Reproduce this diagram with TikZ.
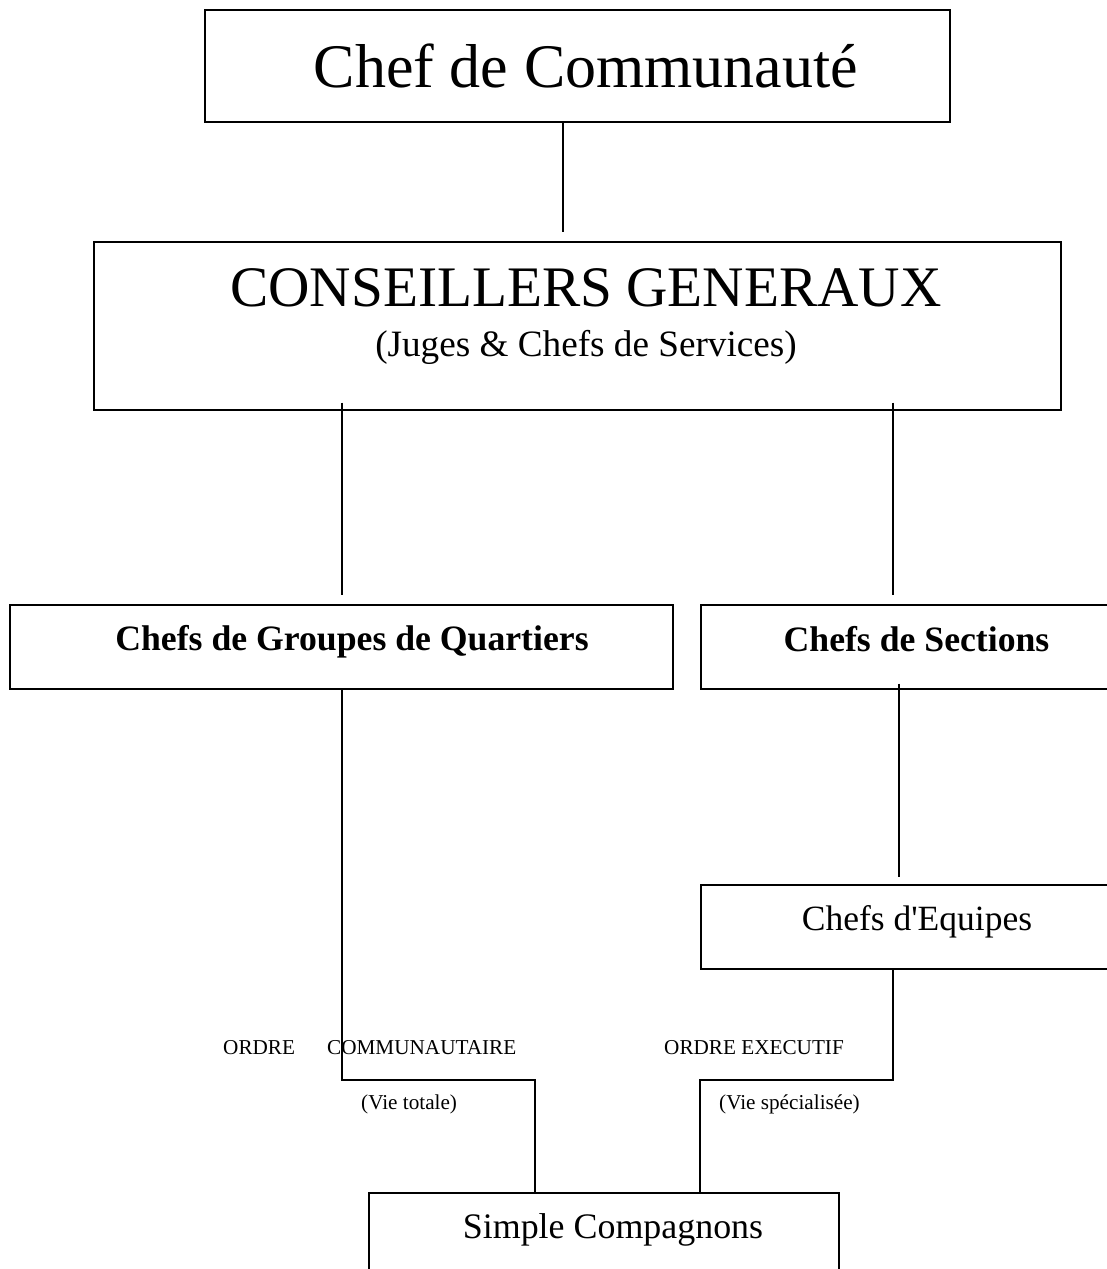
\documentclass[tikz,border=0pt]{standalone}
\usepackage{fontspec}
\setmainfont{Liberation Serif}
\usetikzlibrary{calc}
\newcommand\myfs[1]{\fontsize{#1}{#1}\selectfont}
\begin{document}
\begin{tikzpicture}[x=1pt,y=-1pt,
  box/.style={draw, line width=1.6pt, inner sep=0pt, anchor=north west},
  conn/.style={line width=1.6pt, line join=miter},
  thinconn/.style={line width=1.1pt},
  txt/.style={inner sep=0pt, anchor=base},
  lbl/.style={inner sep=0pt, anchor=base west, font=\myfs{21.2}}]
\useasboundingbox (0,0) rectangle (1107,1269);
\fill[white] (0,0) rectangle (1107,1269);

% boxes
\node[box, minimum width=745pt, minimum height=112pt] (chef) at (204,9) {};
\node[box, minimum width=967pt, minimum height=168pt] (conseil) at (93,241) {};
\node[box, minimum width=663pt, minimum height=84pt] (groupes) at (9,604) {};
\node[box, minimum width=450pt, minimum height=84pt] (sections) at (700,604) {};
\node[box, minimum width=450pt, minimum height=84pt] (equipes) at (700,884) {};
\node[box, minimum width=470pt, minimum height=120pt] (simple) at (368,1192) {};

% texts
\node[txt, font=\myfs{62}] (tchef) at (586,87) {Chef de Communauté};
\node[txt, font=\myfs{57.3}] (tconseil) at (586,306) {CONSEILLERS GENERAUX};
\node[txt, font=\myfs{37.2}] (tjuges) at (586,356) {(Juges \& Chefs de Services)};
\node[txt, font=\myfs{35.7}\bfseries] (tgroupes) at (352,650) {Chefs de Groupes de Quartiers};
\node[txt, font=\myfs{35.7}\bfseries] (tsections) at (916.5,651) {Chefs de Sections};
\node[txt, font=\myfs{35.5}] (tequipes) at (917,930) {Chefs d\textquotesingle Equipes};
\node[txt, font=\myfs{35.9}] (tsimple) at (613,1238) {Simple Compagnons};

\node[lbl] (lordre) at (223,1054) {ORDRE};
\node[lbl] (lcomm) at (327,1054) {COMMUNAUTAIRE};
\node[lbl] (lexec) at (664,1054) {ORDRE EXECUTIF};
\node[lbl] (ltot) at (361,1109) {(Vie totale)};
\node[lbl] (lspec) at (719,1109) {(Vie spécialisée)};

% connector coordinates
\coordinate (xa) at (563,0);
\coordinate (xb) at (342,0);
\coordinate (xc) at (893,0);
\coordinate (xd) at (899,0);
\coordinate (xe) at (535,0);
\coordinate (xf) at (700,0);
\coordinate (yh) at (0,1080);

% connectors
\draw[thinconn] (chef.south -| xa) -- ($(conseil.north -| xa)+(0,-9)$);
\draw[conn] ($(conseil.south -| xb)+(0,-8)$) -- ($(groupes.north -| xb)+(0,-9)$);
\draw[conn] ($(conseil.south -| xc)+(0,-8)$) -- ($(sections.north -| xc)+(0,-9)$);
\draw[conn] ($(sections.south -| xd)+(0,-6)$) -- ($(equipes.north -| xd)+(0,-7)$);
\draw[conn] (groupes.south -| xb) -- (xb |- yh) -- (xe |- yh) -- (simple.north -| xe);
\draw[conn] (equipes.south -| xc) -- (xc |- yh) -- (xf |- yh) -- (simple.north -| xf);
\end{tikzpicture}
\end{document}
